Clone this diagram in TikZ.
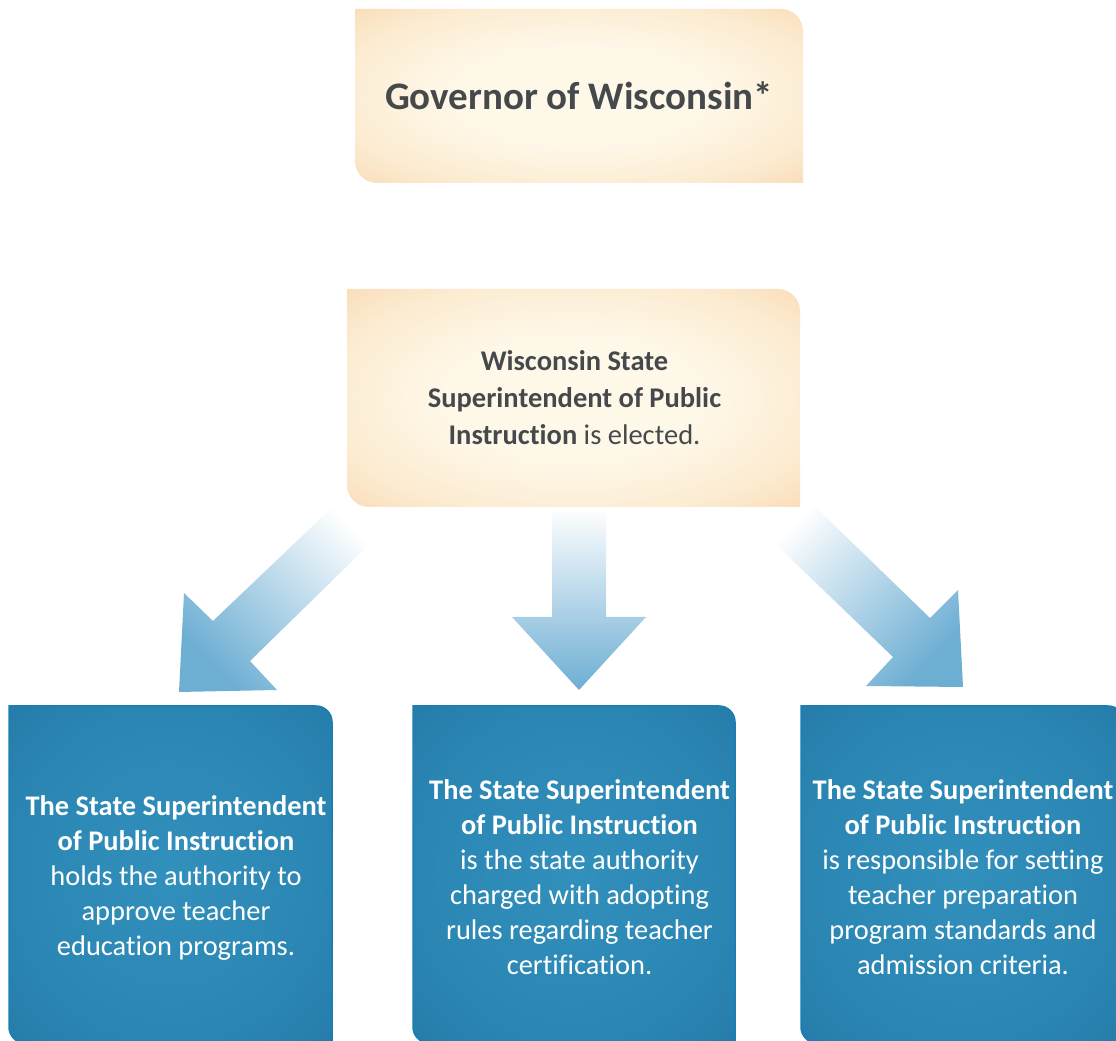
\documentclass[tikz,border=0pt]{standalone}
\usepackage{fontspec}
\setmainfont[Ligatures={NoCommon,NoContextual}]{Carlito}
\usetikzlibrary{calc,backgrounds}
\definecolor{ocenter}{HTML}{FEF8E9}
\definecolor{olight}{HTML}{FCEBD0}
\definecolor{omid}{HTML}{F8D5AD}
\definecolor{oedge}{HTML}{F3C294}
\definecolor{ocorner}{HTML}{EFB27F}
\definecolor{bcenter}{HTML}{3290BD}
\definecolor{bmid}{HTML}{2A85B2}
\definecolor{bedge}{HTML}{2274A2}
\definecolor{bcorner}{HTML}{1C6896}
\definecolor{bline}{HTML}{1A7EB4}
\definecolor{arrowblue}{HTML}{6DAED3}
\definecolor{graytext}{HTML}{46494C}
\pgfdeclareradialshading{orangeglow}{\pgfpoint{0bp}{0bp}}{color(0bp)=(ocenter); color(14bp)=(ocenter); color(28bp)=(olight); color(40bp)=(omid); color(50bp)=(oedge); color(70bp)=(ocorner)}
\pgfdeclareradialshading{blueglow}{\pgfpoint{0bp}{0bp}}{color(0bp)=(bcenter); color(25bp)=(bmid); color(45bp)=(bedge); color(70bp)=(bcorner)}
% #1 node, #2 corner radius, #3 style, #4 x offset, #5 y offset of the box from the node
\newcommand\wibox[5]{%
  \path[#3] ($(#1.north west)+(#4,#5)$) -- ($(#1.north east)+(#4,#5)+(-#2,0)$)
    arc[start angle=90,end angle=0,radius=#2] -- ($(#1.south east)+(#4,#5)$)
    -- ($(#1.south west)+(#4,#5)+(#2,0)$) arc[start angle=270,end angle=180,radius=#2] -- cycle;}
\tikzset{
  obox/.style={rectangle, inner sep=0pt, outer sep=0pt, text=graytext, align=center},
  bbox/.style={rectangle, inner sep=0pt, outer sep=0pt, text=white, align=center,
    minimum width=323pt, minimum height=337pt, font=\fontsize{28.4}{35}\selectfont},
  ofill/.style={shading=orangeglow},
  bfill/.style={shading=blueglow, draw=bline, line width=1.5pt},
  arrowL/.style={top color=white, bottom color=arrowblue, shading angle=-45},
  arrowM/.style={top color=white, bottom color=arrowblue},
  arrowR/.style={top color=white, bottom color=arrowblue, shading angle=45},
}
\begin{document}
\begin{tikzpicture}[x=1pt,y=1pt]
\useasboundingbox (0,0) rectangle (1116,1041);
\node[obox, minimum width=448pt, minimum height=174pt,
  font=\fontsize{39}{46}\selectfont\bfseries] (gov) at (579,945) {Governor of Wisconsin*};
\node[obox, minimum width=453pt, minimum height=218pt,
  font=\fontsize{28.5}{37}\selectfont] (mid) at (574.5,643)
  {\textbf{Wisconsin State}\\\textbf{Superintendent of Public}\\\textbf{Instruction} is elected.};
\node[bbox] (b1) at (176,163.5)
  {\textbf{The State Superintendent}\\\textbf{of Public Instruction}\\holds the authority to\\approve teacher\\education programs.};
\node[bbox, minimum width=322pt] (b2) at (579.5,163.5)
  {\textbf{The State Superintendent}\\\textbf{of Public Instruction}\\is the state authority\\charged with adopting\\rules regarding teacher\\certification.};
\node[bbox] (b3) at (963,163.5)
  {\textbf{The State Superintendent}\\\textbf{of Public Instruction}\\is responsible for setting\\teacher preparation\\program standards and\\admission criteria.};
\begin{scope}[on background layer]
  % block arrows from the middle box to the three lower boxes
  \shade[arrowL] (343,544) -- (382,509) -- (250,380) -- (277,351) -- (179,349) -- (184,448) -- (213,420) -- cycle;
  \shade[arrowM] (552,533) -- (606,533) -- (606,424) -- (646,424) -- (579,351) -- (512,424) -- (552,424) -- cycle;
  \shade[arrowR] (763,509) -- (803,546) -- (930,423) -- (958,451) -- (963,354) -- (866,355) -- (893,384) -- cycle;
  \wibox{gov}{22pt}{ofill}{0}{0}
  \wibox{mid}{22pt}{ofill}{-1}{0}
  \wibox{b1}{16pt}{bfill}{-5.5}{3}
  \wibox{b2}{16pt}{bfill}{-5.5}{3}
  \wibox{b3}{16pt}{bfill}{-0.5}{3}
\end{scope}
\end{tikzpicture}
\end{document}
